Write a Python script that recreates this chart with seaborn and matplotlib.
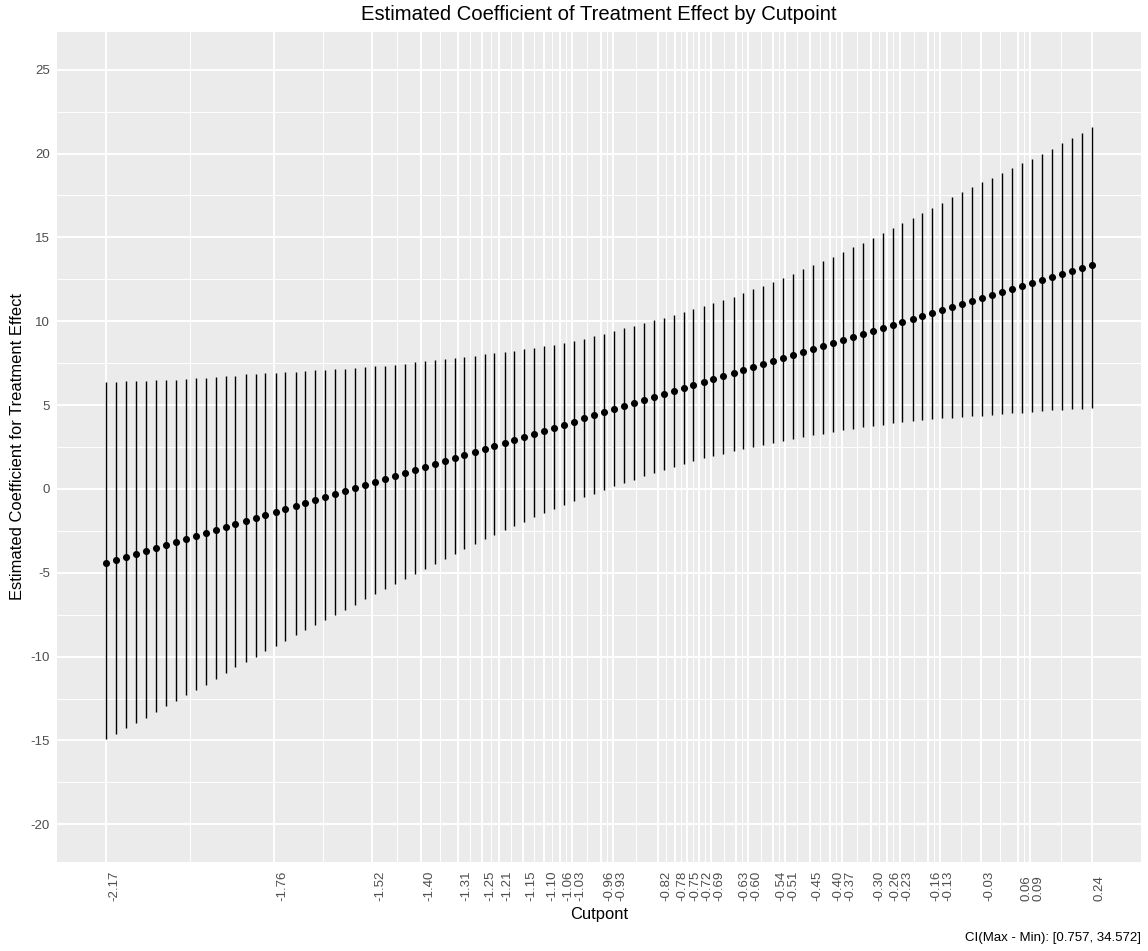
import matplotlib
matplotlib.use("Agg")
import matplotlib.pyplot as plt
import matplotlib.transforms as mtransforms
from matplotlib.ticker import FixedLocator, MultipleLocator
import pandas as pd
import seaborn as sns

# ---------------- data ----------------
cutpoints = [
    -2.170, -2.146, -2.121, -2.097, -2.073, -2.048, -2.024, -2.000, -1.975, -1.951,
    -1.927, -1.902, -1.878, -1.854, -1.829, -1.805, -1.781, -1.756, -1.732, -1.707,
    -1.683, -1.659, -1.634, -1.610, -1.586, -1.561, -1.537, -1.513, -1.488, -1.464,
    -1.440, -1.415, -1.391, -1.367, -1.342, -1.318, -1.294, -1.269, -1.245, -1.221,
    -1.196, -1.172, -1.148, -1.123, -1.099, -1.075, -1.050, -1.026, -1.002, -0.977,
    -0.953, -0.929, -0.904, -0.880, -0.855, -0.831, -0.807, -0.782, -0.758, -0.734,
    -0.709, -0.685, -0.661, -0.636, -0.612, -0.588, -0.563, -0.539, -0.515, -0.490,
    -0.466, -0.442, -0.417, -0.393, -0.369, -0.344, -0.320, -0.296, -0.271, -0.247,
    -0.223, -0.198, -0.174, -0.150, -0.125, -0.101, -0.077, -0.052, -0.028, -0.003,
    0.021, 0.045, 0.070, 0.094, 0.118, 0.143, 0.167, 0.191, 0.216, 0.240,
]

estimate = [
    -4.42, -4.24, -4.06, -3.88, -3.70, -3.52, -3.34, -3.16, -2.98, -2.80,
    -2.62, -2.44, -2.27, -2.09, -1.91, -1.73, -1.55, -1.37, -1.19, -1.01,
    -0.83, -0.65, -0.47, -0.29, -0.11, 0.07, 0.25, 0.43, 0.61, 0.79,
    0.97, 1.15, 1.33, 1.51, 1.69, 1.87, 2.05, 2.23, 2.40, 2.58,
    2.76, 2.94, 3.12, 3.30, 3.48, 3.66, 3.84, 4.02, 4.20, 4.38,
    4.56, 4.74, 4.92, 5.10, 5.28, 5.46, 5.64, 5.82, 6.00, 6.18,
    6.36, 6.54, 6.72, 6.89, 7.07, 7.25, 7.43, 7.61, 7.79, 7.97,
    8.15, 8.33, 8.51, 8.69, 8.87, 9.05, 9.23, 9.41, 9.59, 9.77,
    9.95, 10.13, 10.31, 10.49, 10.67, 10.85, 11.03, 11.20, 11.38, 11.56,
    11.74, 11.92, 12.10, 12.28, 12.46, 12.64, 12.82, 13.00, 13.18, 13.36,
]

ci_upper = [
    6.37, 6.39, 6.41, 6.43, 6.45, 6.47, 6.49, 6.51, 6.55, 6.59,
    6.62, 6.67, 6.72, 6.76, 6.83, 6.87, 6.91, 6.94, 6.97, 7.00,
    7.03, 7.07, 7.11, 7.14, 7.17, 7.22, 7.27, 7.31, 7.35, 7.41,
    7.47, 7.54, 7.61, 7.68, 7.75, 7.82, 7.88, 7.95, 8.02, 8.09,
    8.16, 8.24, 8.33, 8.42, 8.51, 8.61, 8.71, 8.83, 8.96, 9.10,
    9.25, 9.41, 9.57, 9.73, 9.89, 10.05, 10.22, 10.38, 10.56, 10.74,
    10.92, 11.10, 11.28, 11.47, 11.68, 11.90, 12.13, 12.36, 12.59, 12.84,
    13.09, 13.33, 13.58, 13.84, 14.12, 14.40, 14.67, 14.95, 15.26, 15.55,
    15.86, 16.15, 16.46, 16.78, 17.08, 17.38, 17.69, 18.00, 18.29, 18.56,
    18.84, 19.12, 19.42, 19.70, 20.00, 20.30, 20.62, 20.92, 21.25, 21.58,
]

ci_lower = [
    -14.92, -14.60, -14.25, -13.97, -13.65, -13.31, -12.97, -12.63, -12.30, -11.99,
    -11.67, -11.32, -10.97, -10.63, -10.30, -10.00, -9.68, -9.35, -9.06, -8.74,
    -8.41, -8.11, -7.79, -7.50, -7.20, -6.91, -6.59, -6.26, -5.97, -5.66,
    -5.38, -5.10, -4.78, -4.45, -4.15, -3.87, -3.58, -3.29, -3.01, -2.74,
    -2.47, -2.21, -1.95, -1.69, -1.44, -1.19, -0.96, -0.73, -0.51, -0.29,
    -0.07, 0.15, 0.36, 0.56, 0.75, 0.94, 1.13, 1.32, 1.50, 1.67,
    1.83, 1.97, 2.11, 2.24, 2.37, 2.50, 2.63, 2.75, 2.87, 2.98,
    3.10, 3.20, 3.30, 3.40, 3.49, 3.59, 3.68, 3.76, 3.84, 3.91,
    3.98, 4.05, 4.10, 4.16, 4.21, 4.25, 4.29, 4.33, 4.37, 4.41,
    4.45, 4.50, 4.54, 4.59, 4.64, 4.68, 4.72, 4.76, 4.79, 4.82,
]

x_tick_values = [
    -2.17, -1.76, -1.52, -1.40, -1.31, -1.25, -1.21, -1.15, -1.10, -1.06,
    -1.03, -0.96, -0.93, -0.82, -0.78, -0.75, -0.72, -0.69, -0.63, -0.60,
    -0.54, -0.51, -0.45, -0.40, -0.37, -0.30, -0.26, -0.23, -0.16, -0.13,
    -0.03, 0.06, 0.09, 0.24,
]
x_tick_labels = [f"{v:.2f}" for v in x_tick_values]

y_tick_values = [-20, -15, -10, -5, 0, 5, 10, 15, 20, 25]
y_limits_core = (-20, 25)

title = "Estimated Coefficient of Treatment Effect by Cutpoint"
x_label = "Cutpont"
y_label = "Estimated Coefficient for Treatment Effect"
caption = "CI(Max - Min): [0.757, 34.572]"

df = pd.DataFrame({
    "cutpoint": cutpoints,
    "estimate": estimate,
    "lower": ci_lower,
    "upper": ci_upper,
})

# ---------------- style ----------------
sns.set_theme(style="darkgrid", rc={
    "axes.facecolor": "#EBEBEB",
    "figure.facecolor": "white",
    "grid.color": "white",
})
plt.rcParams["font.family"] = ["Liberation Sans", "DejaVu Sans"]

W, H = 1148, 951
fig = plt.figure(figsize=(W / 100, H / 100), dpi=100)
pl, pr, pt, pb = 57, 1141, 32, 862
ax = fig.add_axes([pl / W, 1 - pb / H, (pr - pl) / W, (pb - pt) / H])

# ---------------- marks ----------------
ax.vlines(df["cutpoint"], df["lower"], df["upper"], color="black",
          linewidth=1.0, zorder=2)
sns.scatterplot(data=df, x="cutpoint", y="estimate", ax=ax, color="black",
                s=26, linewidth=0, zorder=3)

# ---------------- scales ----------------
xmin, xmax = min(cutpoints), max(cutpoints)
xpad = 0.05 * (xmax - xmin)
ax.set_xlim(xmin - xpad, xmax + xpad)
ypad = 0.05 * (y_limits_core[1] - y_limits_core[0])
ax.set_ylim(y_limits_core[0] - ypad, y_limits_core[1] + ypad)

ax.xaxis.set_major_locator(FixedLocator(x_tick_values))
x_minor = [(a + b) / 2 for a, b in zip(x_tick_values[:-1], x_tick_values[1:])]
ax.xaxis.set_minor_locator(FixedLocator(x_minor))
ax.yaxis.set_major_locator(FixedLocator(y_tick_values))
ax.yaxis.set_minor_locator(MultipleLocator(2.5))

ax.set_xticklabels(x_tick_labels, rotation=90, ha="left", va="bottom")
ax.set_yticklabels([str(v) for v in y_tick_values])

ax.grid(which="major", color="white", linewidth=1.4)
ax.grid(which="minor", color="white", linewidth=0.7)
ax.set_axisbelow(True)
for s in ax.spines.values():
    s.set_visible(False)

ax.tick_params(axis="both", which="major", length=2.6, width=0.8,
               color="#333333", labelcolor="#4D4D4D", labelsize=9.5)
ax.tick_params(axis="both", which="minor", length=0)
ax.tick_params(axis="x", which="major", pad=25.5)
ax.tick_params(axis="y", which="major", pad=2.6)

shift = mtransforms.ScaledTranslation(2.2 / 100, 0, fig.dpi_scale_trans)
for lab in ax.get_xticklabels():
    lab.set_transform(lab.get_transform() + shift)

# ---------------- text ----------------
ax.set_title(title, fontsize=14.6, color="black", pad=8.6)
ax.set_xlabel(x_label, fontsize=11.9, color="black", va="center")
ax.xaxis.set_label_coords(0.5, (pb - 914) / (pb - pt))
ax.set_ylabel(y_label, fontsize=11.9, color="black", va="center")
ax.yaxis.set_label_coords((18 - pl) / (pr - pl), 0.5)
fig.text(pr / W, 1 - 938 / H, caption, ha="right", va="center",
         fontsize=9.5, color="black")

fig.savefig("out.png", dpi=100)
